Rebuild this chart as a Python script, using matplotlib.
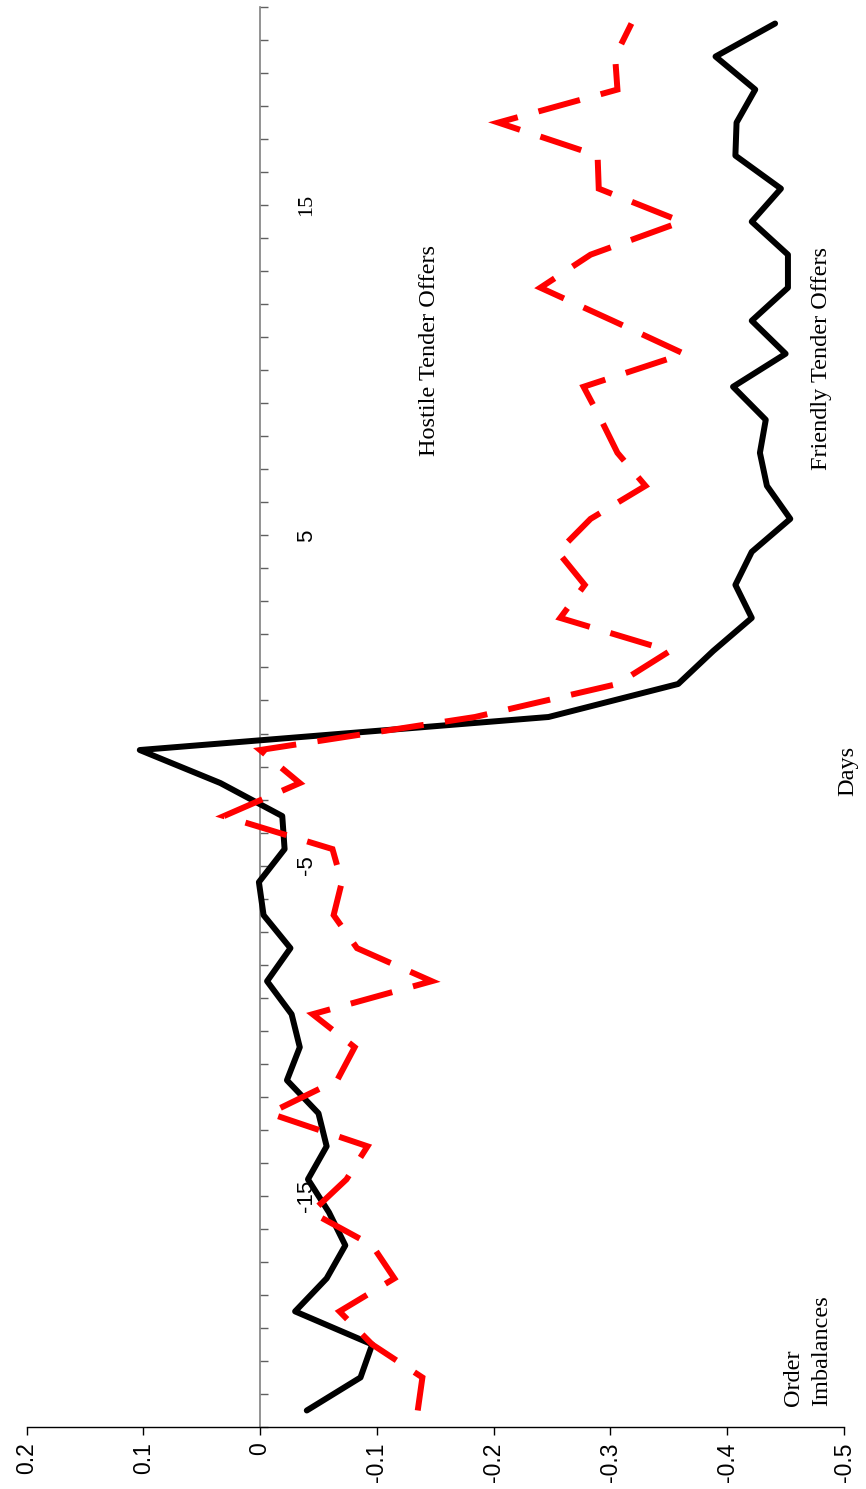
import matplotlib
matplotlib.use("Agg")
import matplotlib.pyplot as plt
import numpy as np

# ---- data ----
days = list(range(-21, 22))  # 43 event days (categories)
friendly = [-0.040, -0.086, -0.096, -0.030, -0.057, -0.073, -0.059, -0.041, -0.057, -0.050,
            -0.023, -0.034, -0.027, -0.006, -0.026, -0.003, 0.001, -0.021, -0.019, 0.034,
            0.103, -0.247, -0.358, -0.388, -0.421, -0.407, -0.421, -0.454, -0.434, -0.428,
            -0.433, -0.405, -0.450, -0.421, -0.452, -0.452, -0.421, -0.446, -0.407, -0.408,
            -0.424, -0.390, -0.441]
hostile = [-0.135, -0.139, -0.096, -0.068, -0.115, -0.096, -0.044, -0.074, -0.092, -0.008,
           -0.066, -0.081, -0.045, -0.147, -0.083, -0.063, -0.070, -0.062, 0.031, -0.034,
           0.000, -0.184, -0.306, -0.351, -0.257, -0.278, -0.255, -0.283, -0.330, -0.306,
           -0.292, -0.277, -0.363, -0.302, -0.240, -0.283, -0.361, -0.290, -0.289, -0.204,
           -0.306, -0.304, -0.318]
value_ticks = [0.2, 0.1, 0.0, -0.1, -0.2, -0.3, -0.4, -0.5]
value_labels = ["0.2", "0.1", "0", "-0.1", "-0.2", "-0.3", "-0.4", "-0.5"]
day_labels = ["-15", "-5", "5", "15"]
day_label_pos = [-14.5, -4.5, 5.5, 15.5]

W, H = 866, 1489
fig = plt.figure(figsize=(W / 100, H / 100), dpi=100)
ax = fig.add_axes([26.5 / W, (H - 1427) / H, (844 - 26.5) / W, (1427 - 7) / H])

ax.set_xlim(0.2, -0.5)
ax.set_ylim(days[0] - 0.5, days[-1] + 0.5)

ax.plot(friendly, days, color="black", lw=4.3, solid_joinstyle="round",
        solid_capstyle="round", zorder=3)
ax.plot(hostile, days, color="#ff0000", lw=4.3, dashes=(7.2, 3.6),
        dash_capstyle="butt", dash_joinstyle="miter", zorder=4)

# spines
for s in ["top", "right"]:
    ax.spines[s].set_visible(False)
ax.spines["left"].set_position(("data", 0))
ax.spines["left"].set_color("#808080")
ax.spines["left"].set_linewidth(1.2)
ax.spines["bottom"].set_color("black")
ax.spines["bottom"].set_linewidth(1.0)

ax.set_yticks(np.arange(days[0] - 0.5, days[-1] + 1.0, 1.0))
ax.set_yticklabels([])
ax.tick_params(axis="y", direction="in", length=6, width=1.0, color="#606060")

ax.set_xticks(value_ticks)
ax.set_xticklabels(value_labels, rotation=90, fontsize=16.5,
                   family="Liberation Sans")
ax.tick_params(axis="x", direction="out", length=6, width=1.0, pad=5)

# day labels
for lab, p in zip(day_labels, day_label_pos):
    fam = "Liberation Serif" if lab == "15" else "Liberation Sans"
    ax.text(-0.04, p, lab, rotation=90, ha="center", va="center",
            fontsize=16, family=fam)

serif = "Liberation Serif"
ax.text(-0.1455, 11.1, "Hostile Tender Offers", rotation=90, ha="center", va="center",
        fontsize=17.5, family=serif)
ax.text(-0.481, 10.86, "Friendly Tender Offers", rotation=90, ha="center", va="center",
        fontsize=17.5, family=serif, clip_on=False)
ax.text(-0.503, -1.62, "Days", rotation=90, ha="center", va="center",
        fontsize=17.5, family=serif, clip_on=False)
ax.text(-0.4565, -20.85, "Order", rotation=90, ha="center", va="bottom",
        fontsize=17.5, family=serif, clip_on=False)
ax.text(-0.481, -20.85, "Imbalances", rotation=90, ha="center", va="bottom",
        fontsize=17.5, family=serif, clip_on=False)

fig.savefig("out.png", dpi=100)
